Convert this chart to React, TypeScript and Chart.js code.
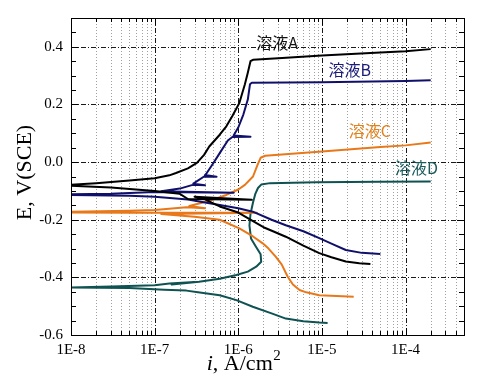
import { useEffect, useRef } from 'react';
import { Chart, registerables } from 'chart.js';

Chart.register(...registerables);

// ---------------- data ----------------
const X_MIN = 1e-8;
const X_MAX = 5e-4;
const Y_MIN = -0.6;
const Y_MAX = 0.5;

const xTicks = [1e-8, 1e-7, 1e-6, 1e-5, 1e-4];
const yTicks = [-0.6, -0.4, -0.2, 0, 0.2, 0.4];

// [current density (A/cm2), potential (V vs SCE)]
const curveA: [number, number][] = [
  [3.8e-5, -0.354], [2.8e-5, -0.351], [1.93e-5, -0.345], [1.3e-5, -0.33], [9.3e-6, -0.316],
  [6e-6, -0.29], [3.7e-6, -0.259], [2.6e-6, -0.24], [2e-6, -0.226], [1.5e-6, -0.205],
  [1e-6, -0.175], [6e-7, -0.154], [3.7e-7, -0.125], [3e-7, -0.12], [1.45e-6, -0.131],
  [2.5e-7, -0.128], [2e-7, -0.11], [1e-7, -0.1], [3e-8, -0.088], [1e-8, -0.082],
  [1e-8, -0.079], [2e-8, -0.073], [5e-8, -0.064], [1e-7, -0.056], [1.5e-7, -0.046],
  [1.8e-7, -0.038], [2.5e-7, -0.022], [3.2e-7, -0.003], [3.9e-7, 0.025], [4.5e-7, 0.054],
  [6e-7, 0.095], [7.2e-7, 0.124], [8.5e-7, 0.16], [1.03e-6, 0.205], [1.2e-6, 0.27],
  [1.3e-6, 0.31], [1.4e-6, 0.35], [1.5e-6, 0.355], [3e-6, 0.36], [1e-5, 0.37], [5e-5, 0.38],
  [1e-4, 0.385], [2e-4, 0.392],
];

const curveB: [number, number][] = [
  [5e-5, -0.319], [3e-5, -0.315], [1.93e-5, -0.305], [1.3e-5, -0.283], [9.3e-6, -0.264],
  [6e-6, -0.24], [3.7e-6, -0.219], [2.5e-6, -0.2], [1.49e-6, -0.172], [1e-6, -0.16],
  [6e-7, -0.149], [4e-7, -0.14], [2.5e-7, -0.13], [1e-7, -0.12], [5e-8, -0.117], [1e-8, -0.114],
  [1e-8, -0.112], [3e-8, -0.11], [1e-7, -0.104], [8.8e-7, -0.106], [1.2e-7, -0.101],
  [2e-7, -0.092], [2.85e-7, -0.079], [4e-7, -0.08], [2.9e-7, -0.075], [3.9e-7, -0.05],
  [5.5e-7, -0.051], [4e-7, -0.045], [4.2e-7, -0.038], [5e-7, -0.005], [6e-7, 0.031],
  [7.5e-7, 0.075], [8.5e-7, 0.087], [1.4e-6, 0.088], [8.8e-7, 0.092], [1e-6, 0.12],
  [1.15e-6, 0.165], [1.3e-6, 0.217], [1.38e-6, 0.27], [1.45e-6, 0.275], [1e-5, 0.277],
  [1e-4, 0.281], [2e-4, 0.284],
];

const curveC: [number, number][] = [
  [2.4e-5, -0.467], [1.5e-5, -0.465], [9.3e-6, -0.462], [6.5e-6, -0.452], [5.4e-6, -0.444],
  [4.5e-6, -0.425], [3.9e-6, -0.398], [3.3e-6, -0.355], [2.8e-6, -0.328], [2.3e-6, -0.3],
  [1.96e-6, -0.282], [1.5e-6, -0.258], [1.03e-6, -0.23], [6e-7, -0.2], [3e-7, -0.19],
  [1.2e-7, -0.18], [1.67e-6, -0.176], [1.3e-7, -0.176], [5e-8, -0.176], [1e-8, -0.175],
  [1e-8, -0.172], [5e-8, -0.169], [1e-7, -0.166], [2.4e-7, -0.157], [4e-7, -0.16],
  [2.6e-7, -0.152], [3.5e-7, -0.143], [5e-7, -0.13], [7.2e-7, -0.114], [1e-6, -0.095],
  [1.2e-6, -0.079], [1.5e-6, -0.05], [1.7e-6, -0.01], [1.85e-6, 0.015], [2.1e-6, 0.022],
  [1e-5, 0.037], [5e-5, 0.052], [1e-4, 0.058], [2e-4, 0.068],
];

const curveD: [number, number][] = [
  [1.17e-5, -0.558], [9.3e-6, -0.557], [6e-6, -0.552], [3.7e-6, -0.543], [2.5e-6, -0.525],
  [1.49e-6, -0.502], [9.5e-7, -0.479], [6e-7, -0.462], [3.3e-7, -0.452], [2.4e-7, -0.446],
  [1.3e-7, -0.443], [5e-8, -0.437], [1e-8, -0.435],
  [1e-8, -0.435], [3e-8, -0.432], [1e-7, -0.427], [1.5e-7, -0.421], [3e-7, -0.416],
  [1.6e-7, -0.425], [3.4e-7, -0.415], [6e-7, -0.405], [9.5e-7, -0.392], [1.3e-6, -0.38],
  [1.64e-6, -0.363], [1.88e-6, -0.346], [1.85e-6, -0.32], [1.6e-6, -0.29], [1.42e-6, -0.265],
  [1.36e-6, -0.22], [1.4e-6, -0.18], [1.5e-6, -0.14], [1.6e-6, -0.11], [1.72e-6, -0.09],
  [1.88e-6, -0.078], [2.4e-6, -0.073], [8.5e-6, -0.07], [5e-5, -0.068], [2e-4, -0.067],
];

const seriesNames = ['溶液A', '溶液B', '溶液C', '溶液D'];
const seriesColors = ['#000000', '#10106a', '#e8781a', '#0f5252'];
const labelColors = ['#111111', '#1c1c78', '#e0821e', '#1a5a5a'];
// label anchor (left edge, vertical middle) in data coordinates
const labelX = [1.64e-6, 1.2e-5, 2.1e-5, 7.5e-5];
const labelY = [0.414, 0.321, 0.109, -0.019];

const curves = [curveA, curveB, curveC, curveD];

const SERIF = '"Liberation Serif", "Times New Roman", serif';
const CJK = '"Noto Sans CJK JP", "Noto Sans CJK SC", sans-serif';

const framePlugin = {
  id: 'frame',
  beforeDatasetsDraw(chart: any) {
    const { ctx, chartArea } = chart;
    const { left, right, top, bottom } = chartArea;
    const xs = chart.scales.x;
    const ys = chart.scales.y;
    ctx.save();
    // minor vertical grid
    ctx.strokeStyle = '#a0a0a0';
    ctx.lineWidth = 1;
    ctx.setLineDash([1, 2]);
    for (let d = -8; d <= -4; d++) {
      for (let m = 2; m <= 9; m++) {
        const v = m * Math.pow(10, d);
        if (v >= X_MAX) continue;
        const px = Math.round(xs.getPixelForValue(v)) + 0.5;
        ctx.beginPath();
        ctx.moveTo(px, top);
        ctx.lineTo(px, bottom);
        ctx.stroke();
      }
    }
    // major grid
    ctx.strokeStyle = '#1a1a1a';
    ctx.setLineDash([5, 2, 1, 2]);
    xTicks.forEach((v) => {
      if (v <= X_MIN) return;
      const px = Math.round(xs.getPixelForValue(v)) + 0.5;
      ctx.beginPath();
      ctx.moveTo(px, top);
      ctx.lineTo(px, bottom);
      ctx.stroke();
    });
    yTicks.forEach((v) => {
      if (v <= Y_MIN) return;
      const py = Math.round(ys.getPixelForValue(v)) + 0.5;
      ctx.beginPath();
      ctx.moveTo(left, py);
      ctx.lineTo(right, py);
      ctx.stroke();
    });
    ctx.restore();
  },
  afterDatasetsDraw(chart: any) {
    const { ctx, chartArea } = chart;
    const { left, right, top, bottom } = chartArea;
    const xs = chart.scales.x;
    const ys = chart.scales.y;
    ctx.save();
    ctx.setLineDash([]);
    ctx.strokeStyle = '#000';
    ctx.lineWidth = 1;
    ctx.strokeRect(Math.round(left) + 0.5, Math.round(top) + 0.5, Math.round(right - left), Math.round(bottom - top));
    // x ticks (inward, bottom and top)
    for (let d = -8; d <= -4; d++) {
      for (let m = 1; m <= 9; m++) {
        const v = m * Math.pow(10, d);
        if (v >= X_MAX) continue;
        const len = m === 1 ? 7 : 4;
        const px = Math.round(xs.getPixelForValue(v)) + 0.5;
        ctx.beginPath();
        ctx.moveTo(px, bottom);
        ctx.lineTo(px, bottom - len);
        ctx.moveTo(px, top);
        ctx.lineTo(px, top + len);
        ctx.stroke();
      }
    }
    // y ticks (inward, left and right) every 0.05
    for (let k = Math.round(Y_MIN * 20); k <= Math.round(Y_MAX * 20); k++) {
      const v = k / 20;
      const major = k % 4 === 0;
      const len = major ? 7 : 5;
      const py = Math.round(ys.getPixelForValue(v)) + 0.5;
      ctx.beginPath();
      ctx.moveTo(left, py);
      ctx.lineTo(left + len, py);
      ctx.moveTo(right, py);
      ctx.lineTo(right - len, py);
      ctx.stroke();
    }
    // series labels
    ctx.font = `16px ${CJK}`;
    ctx.textAlign = 'left';
    ctx.textBaseline = 'middle';
    seriesNames.forEach((name, i) => {
      ctx.fillStyle = labelColors[i];
      ctx.fillText(name, xs.getPixelForValue(labelX[i]), ys.getPixelForValue(labelY[i]));
    });
    // y title
    ctx.fillStyle = '#000';
    ctx.save();
    ctx.translate(25, (top + bottom) / 2 - 4);
    ctx.rotate(-Math.PI / 2);
    ctx.font = `22px ${SERIF}`;
    ctx.textAlign = 'center';
    ctx.textBaseline = 'middle';
    ctx.fillText('E, V(SCE)', 0, 0);
    ctx.restore();
    // x title: i, A/cm^2
    const partI = 'i';
    const partMain = ', A/cm';
    const partSup = '2';
    ctx.textBaseline = 'alphabetic';
    ctx.textAlign = 'left';
    ctx.font = `italic 22px ${SERIF}`;
    const wI = ctx.measureText(partI).width;
    ctx.font = `22px ${SERIF}`;
    const wM = ctx.measureText(partMain).width;
    ctx.font = `15px ${SERIF}`;
    const wS = ctx.measureText(partSup).width;
    const total = wI + wM + wS;
    let x0 = chart.width / 2 - total / 2;
    const base = 370;
    ctx.font = `italic 22px ${SERIF}`;
    ctx.fillText(partI, x0, base);
    x0 += wI;
    ctx.font = `22px ${SERIF}`;
    ctx.fillText(partMain, x0, base);
    x0 += wM;
    ctx.font = `15px ${SERIF}`;
    ctx.fillText(partSup, x0 + 0.5, base - 10);
    ctx.restore();
  },
};

export default function App() {
  const ref = useRef<HTMLCanvasElement>(null);
  useEffect(() => {
    const chart = new Chart(ref.current as HTMLCanvasElement, {
      type: 'scatter',
      data: {
        datasets: curves.map((c, i) => ({
          label: seriesNames[i],
          data: c.map(([x, y]) => ({ x, y })),
          showLine: true,
          borderColor: seriesColors[i],
          backgroundColor: seriesColors[i],
          borderWidth: 2,
          pointRadius: 0,
          tension: 0,
          fill: false,
          borderJoinStyle: 'round',
        })) as any,
      },
      options: {
        responsive: false,
        animation: false,
        devicePixelRatio: 1,
        layout: { padding: { top: 18, right: 23, left: 0, bottom: 0 } },
        plugins: { legend: { display: false }, tooltip: { enabled: false } },
        scales: {
          x: {
            type: 'logarithmic',
            min: X_MIN,
            max: X_MAX,
            grid: { display: false, drawTicks: false },
            border: { display: false },
            ticks: {
              autoSkip: false,
              maxRotation: 0,
              padding: 6,
              color: '#000',
              font: { family: SERIF, size: 15 },
              callback: (v: any) => `1E${Math.round(Math.log10(Number(v)))}`,
            },
            afterBuildTicks: (s: any) => {
              s.ticks = xTicks.map((v) => ({ value: v }));
            },
            afterFit: (s: any) => {
              s.height = 49;
            },
          },
          y: {
            type: 'linear',
            min: Y_MIN,
            max: Y_MAX,
            grid: { display: false, drawTicks: false },
            border: { display: false },
            ticks: {
              padding: 8,
              color: '#000',
              font: { family: SERIF, size: 15 },
              callback: (v: any) => Number(v).toFixed(1),
            },
            afterBuildTicks: (s: any) => {
              s.ticks = yTicks.map((v) => ({ value: v }));
            },
            afterFit: (s: any) => {
              s.width = 71;
            },
          },
        },
      } as any,
      plugins: [framePlugin],
    });
    return () => chart.destroy();
  }, []);
  return (
    <div style={{ position: 'fixed', left: 0, top: 0, width: 487, height: 384, background: '#fff' }}>
      <canvas ref={ref} width={487} height={384} style={{ display: 'block' }} />
    </div>
  );
}
